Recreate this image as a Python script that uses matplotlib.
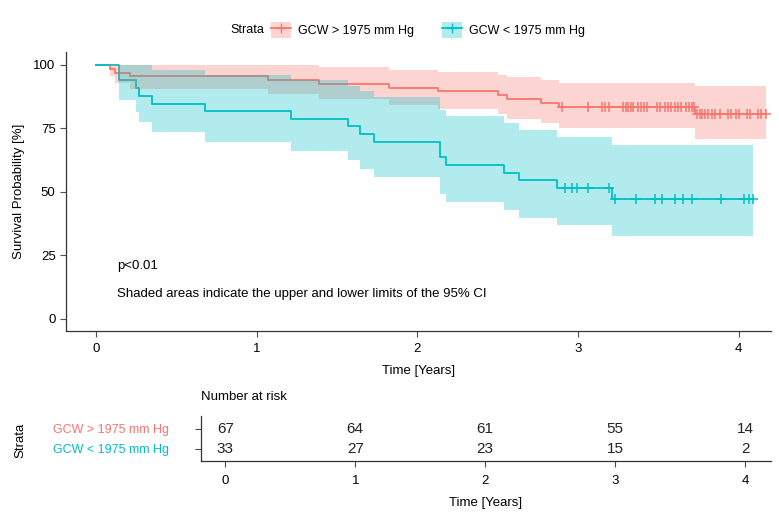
import numpy as np
import matplotlib
matplotlib.use("Agg")
import matplotlib.pyplot as plt
from matplotlib.patches import Patch
from matplotlib.lines import Line2D

plt.rcParams['font.family'] = ['Liberation Sans', 'DejaVu Sans']

# Kaplan-Meier step data (values in %)
high_label = "GCW > 1975 mm Hg"
low_label = "GCW < 1975 mm Hg"

high_time = [0, 0.087, 0.118, 0.21, 1.07, 1.39, 1.82, 2.13, 2.50, 2.56, 2.77, 2.88, 3.73, 4.17]
high_surv = [100, 98.5, 97.0, 95.5, 94.0, 92.5, 91.0, 89.6, 88.1, 86.6, 85.1, 83.6, 80.5, 80.5]
high_upper = [100, 100, 100, 100, 99.8, 99.0, 98.1, 97.4, 96.2, 95.1, 94.0, 93.0, 91.6, 91.6]
high_lower = [100, 95.6, 93.0, 90.7, 88.5, 86.4, 84.4, 82.6, 80.7, 78.8, 77.0, 75.2, 70.7, 70.7]

low_time = [0, 0.14, 0.25, 0.27, 0.35, 0.68, 1.21, 1.57, 1.64, 1.73, 2.14, 2.18, 2.54, 2.63, 2.87, 3.21, 4.09]
low_surv = [100, 93.9, 90.9, 87.9, 84.8, 81.8, 78.8, 75.8, 72.7, 69.7, 63.6, 60.6, 57.6, 54.5, 51.5, 47.3, 47.3]
low_upper = [100, 100, 100, 99.8, 97.9, 96.0, 94.1, 91.9, 89.6, 87.2, 82.3, 79.8, 77.2, 74.4, 71.7, 68.5, 68.5]
low_lower = [100, 86.1, 81.6, 77.4, 73.4, 69.7, 66.0, 62.6, 59.1, 55.7, 49.2, 46.1, 43.0, 39.9, 37.0, 32.5, 32.5]

# censoring times
high_cens = [2.90, 3.06, 3.15, 3.17, 3.19, 3.28, 3.30, 3.31, 3.33, 3.34, 3.37, 3.39, 3.41, 3.43,
             3.49, 3.51, 3.54, 3.56, 3.58, 3.60, 3.62, 3.64, 3.67, 3.69, 3.71, 3.72, 3.74, 3.76,
             3.77, 3.79, 3.81, 3.83, 3.85, 3.88, 3.93, 3.95, 3.98, 4.00, 4.05, 4.07, 4.12, 4.14, 4.17]
low_cens = [2.92, 2.96, 2.99, 3.06, 3.19, 3.23, 3.36, 3.48, 3.52, 3.60, 3.65, 3.71, 3.89, 4.03, 4.06, 4.09]

# number at risk table
risk_times = [0, 1, 2, 3, 4]
high_risk = [67, 64, 61, 55, 14]
low_risk = [33, 27, 23, 15, 2]

red = "#F8766D"
cyan = "#00BFC4"
spine_col = "#333333"
tick_col = "#4d4d4d"
fs = 9.5


def step_value(times, surv, t):
    idx = np.searchsorted(times, t, side='right') - 1
    return np.array(surv)[idx]


fig = plt.figure(figsize=(7.79, 5.15), dpi=100)
W, H = 779, 515
ax = fig.add_axes([66 / W, 1 - 331 / H, (771 - 66) / W, (331 - 52) / H])

ax.step(high_time, high_surv, where='post', color=red, lw=1.3, zorder=2)
ax.step(low_time, low_surv, where='post', color=cyan, lw=1.3, zorder=2)
ax.fill_between(high_time, high_lower, high_upper, step='post', color=red, alpha=0.3, lw=0, zorder=3)
ax.fill_between(low_time, low_lower, low_upper, step='post', color=cyan, alpha=0.3, lw=0, zorder=3)
ax.plot(high_cens, step_value(high_time, high_surv, high_cens), ls='none', marker='+',
        color=red, ms=7, mew=1.1, zorder=4)
ax.plot(low_cens, step_value(low_time, low_surv, low_cens), ls='none', marker='+',
        color=cyan, ms=7, mew=1.1, zorder=4)

ax.set_xlim(-0.187, 4.2)
ax.set_ylim(-4.8, 105.1)
ax.set_xticks(risk_times)
ax.set_yticks([0, 25, 50, 75, 100])
ax.set_xlabel("Time [Years]", fontsize=fs, labelpad=7)
ax.set_ylabel("Survival Probability [%]", fontsize=fs, labelpad=6)
for s in ['top', 'right']:
    ax.spines[s].set_visible(False)
for s in ['left', 'bottom']:
    ax.spines[s].set_color(spine_col)
    ax.spines[s].set_linewidth(0.9)
ax.tick_params(labelsize=fs, colors=tick_col, labelcolor='black', length=4, width=0.8)
ax.tick_params(axis='x', pad=5)

ax.text(0.13, 19.5, "p<0.01", fontsize=fs)
ax.text(0.13, 8.6, "Shaded areas indicate the upper and lower limits of the 95% CI", fontsize=fs)

# legend
handles = [(Patch(facecolor=red, alpha=0.3, lw=0), Line2D([], [], color=red, marker='+', lw=1.3, ms=7)),
           (Patch(facecolor=cyan, alpha=0.3, lw=0), Line2D([], [], color=cyan, marker='+', lw=1.3, ms=7))]
fig.legend(handles, [high_label, low_label], loc='center', bbox_to_anchor=(428 / W, 1 - 30 / H),
           ncol=2, frameon=False, fontsize=9, handlelength=1.6, handleheight=1.6,
           columnspacing=2.2, handletextpad=0.6)
fig.text(230 / W, 1 - 30 / H, "Strata", fontsize=9, va='center', ha='left')

# risk table
tab = fig.add_axes([201 / W, 1 - 461 / H, (771 - 201) / W, (461 - 416) / H])
tab.set_xlim(-0.187, 4.2)
tab.set_ylim(0.4, 2.65)
for t, a, b in zip(risk_times, high_risk, low_risk):
    tab.text(t, 2, str(a), ha='center', va='center', fontsize=11, color='#222222')
    tab.text(t, 1, str(b), ha='center', va='center', fontsize=11, color='#222222')
tab.set_xticks(risk_times)
tab.set_yticks([2, 1])
for s in ['top', 'right']:
    tab.spines[s].set_visible(False)
for s in ['left', 'bottom']:
    tab.spines[s].set_color(spine_col)
    tab.spines[s].set_linewidth(0.9)
tab.tick_params(axis='x', labelsize=fs, colors=tick_col, labelcolor='black', length=4, width=0.8, pad=6)
tab.tick_params(axis='y', colors=tick_col, length=4, width=0.8, pad=19)
tab.set_yticklabels([high_label, low_label], fontsize=9, ha='right')
for lbl, c in zip(tab.get_yticklabels(), [red, cyan]):
    lbl.set_color(c)
tab.set_xlabel("Time [Years]", fontsize=fs, labelpad=7)
fig.text(201 / W, 1 - 397 / H, "Number at risk", fontsize=fs, va='center', ha='left')
fig.text(20 / W, 1 - 440 / H, "Strata", fontsize=fs, rotation=90, va='center', ha='center')

fig.savefig("out.png", dpi=100)
